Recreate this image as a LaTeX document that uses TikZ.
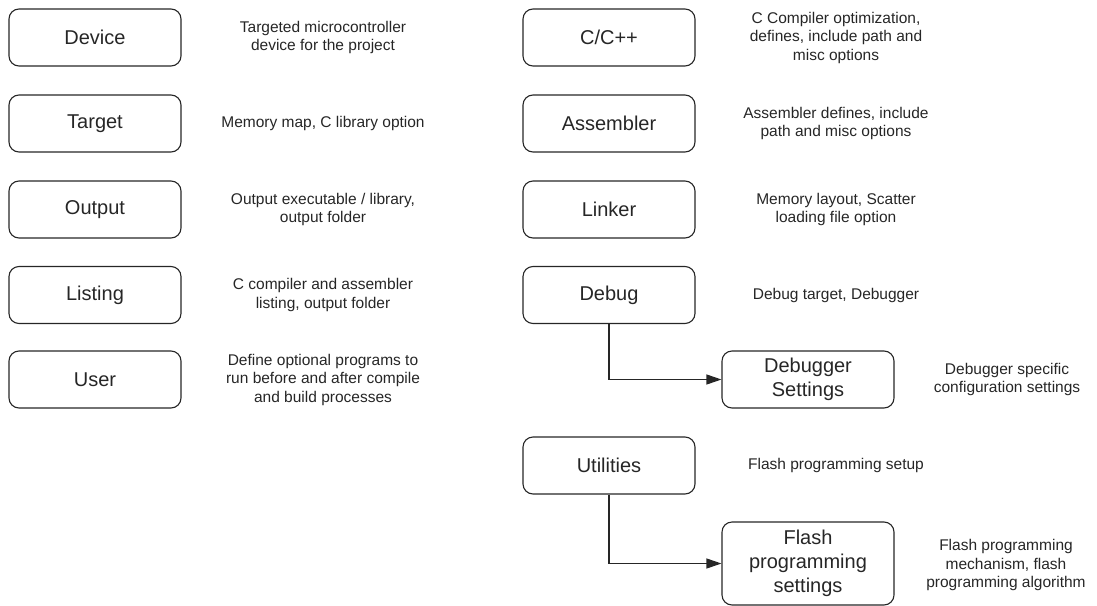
\documentclass[tikz,border=0pt]{standalone}
\usepackage{fontspec}
\setmainfont{Liberation Sans}
\usetikzlibrary{arrows.meta}
\begin{document}
\begin{tikzpicture}[x=1pt,y=-1pt,
  box/.style={draw=black!85, line width=1.1pt, rounded corners=10pt, minimum width=172pt, minimum height=57pt, align=center, font=\fontsize{20}{24}\selectfont, text=black!85, inner sep=0pt},
  desc/.style={align=center, font=\fontsize{15.5}{18.5}\selectfont, text=black!85, inner sep=0pt},
  conn/.style={draw=black!85, line width=1.1pt, -{Triangle[length=15pt,width=10pt]}}]
\useasboundingbox (0,0) rectangle (1097,605);
% left column
\node[box] (device) at (95,37.5) {Device};
\node[box] (target) at (95,123.5) {Target};
\node[box] (output) at (95,209.5) {Output};
\node[box] (listing) at (95,295) {Listing};
\node[box] (user) at (95,379.5) {User};
\node[desc] (ddevice) at (323,37.5) {Targeted microcontroller\\device for the project};
\node[desc] (dtarget) at (323,123.5) {Memory map, C library option};
\node[desc] (doutput) at (323,209.5) {Output executable / library,\\output folder};
\node[desc] (dlisting) at (323,295) {C compiler and assembler\\listing, output folder};
\node[desc] (duser) at (323,379.5) {Define optional programs to\\run before and after compile\\and build processes};
% right column
\node[box] (cc) at (609,37.5) {C/C++};
\node[box] (asm) at (609,123.5) {Assembler};
\node[box] (linker) at (609,209.5) {Linker};
\node[box] (debug) at (609,295) {Debug};
\node[box] (util) at (609,465.5) {Utilities};
\node[box] (dbgset) at (808,379.5) {Debugger\\Settings};
\node[box, minimum height=83pt] (flash) at (808,563.5) {Flash\\programming\\settings};
\node[desc] (dcc) at (836,37.5) {C Compiler optimization,\\defines, include path and\\misc options};
\node[desc] (dasm) at (836,123.5) {Assembler defines, include\\path and misc options};
\node[desc] (dlinker) at (836,209.5) {Memory layout, Scatter\\loading file option};
\node[desc] (ddebug) at (836,295) {Debug target, Debugger};
\node[desc] (dutil) at (836,465.5) {Flash programming setup};
\node[desc] (ddbgset) at (1007,379.5) {Debugger specific\\configuration settings};
\node[desc] (dflash) at (1006,565) {Flash programming\\mechanism, flash\\programming algorithm};
% connectors
\draw[conn] (debug.south) |- (dbgset.west);
\draw[conn] (util.south) |- (flash.west);
\end{tikzpicture}
\end{document}
